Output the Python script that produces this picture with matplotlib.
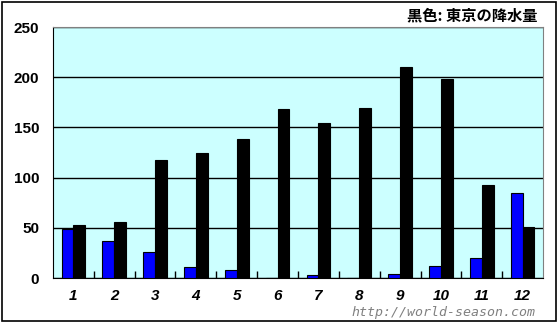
import numpy as np
import matplotlib.pyplot as plt

months = ['1', '2', '3', '4', '5', '6', '7', '8', '9', '10', '11', '12']
other_city = [49, 37, 26, 11, 8, 0, 3, 0, 4, 12, 20, 85]
tokyo = [53, 56, 118, 125, 138, 168, 154, 169, 210, 198, 93, 51]

fig = plt.figure(figsize=(5.59, 3.23), dpi=100)
ax = fig.add_axes([0.0948, 0.1393, 0.8766, 0.7771])
ax.set_facecolor('#ccffff')

x = np.arange(len(months))
w = 0.29
ax.bar(x - w / 2, other_city, w, color='#0000ff', edgecolor='black', linewidth=0.8, zorder=3)
ax.bar(x + w / 2, tokyo, w, color='black', edgecolor='black', linewidth=0.8, zorder=3)

ax.set_xlim(-0.5, len(months) - 0.5)
ax.set_ylim(0, 250)
ax.set_yticks([0, 50, 100, 150, 200, 250])
ax.yaxis.grid(True, color='black', linewidth=1)
ax.set_axisbelow(True)

ax.set_xticks(x)
ax.set_xticklabels(months, fontweight='bold', style='italic', fontsize=11, family='Liberation Sans')
ax.set_xticks(np.arange(0.5, len(months) - 0.5, 1), minor=True)
ax.tick_params(axis='x', which='major', length=0, pad=8)
ax.tick_params(axis='x', which='minor', direction='in', length=5, width=1)
ax.tick_params(axis='y', length=0, pad=10)
for lab in ax.get_yticklabels():
    lab.set_fontweight('bold')
    lab.set_fontsize(11)
    lab.set_family('Liberation Sans')

ax.spines['left'].set_color('black')
ax.spines['bottom'].set_color('black')
ax.spines['top'].set_color('#808080')
ax.spines['right'].set_color('#808080')

fig.text(0.962, 0.953, '黒色: 東京の降水量', ha='right', va='center', fontsize=11,
         family=['Noto Sans CJK JP', 'DejaVu Sans'], fontweight='bold')
fig.text(0.958, 0.032, 'http://world-season.com', ha='right', va='center', fontsize=9.5,
         family='DejaVu Sans Mono', style='italic', color='#808080')

fig.patches.append(plt.Rectangle((0.004, 0.007), 0.991, 0.987, transform=fig.transFigure,
                                 fill=False, edgecolor='black', linewidth=1.2))

fig.savefig('out.png', dpi=100)
